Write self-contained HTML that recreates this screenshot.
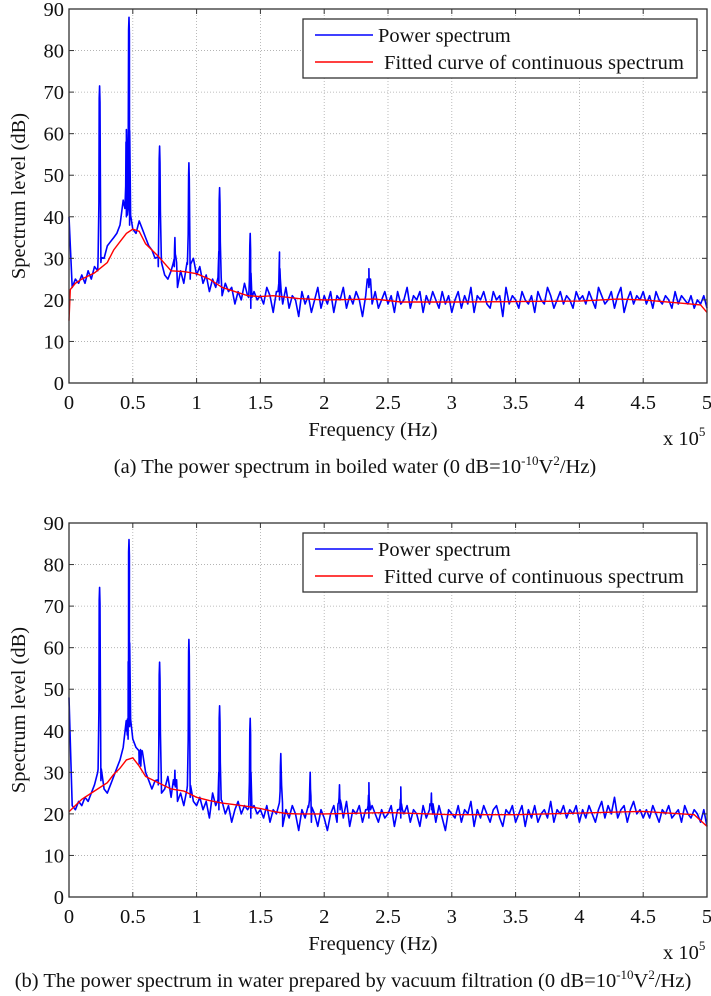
<!DOCTYPE html>
<html><head><meta charset="utf-8"><style>
html,body{margin:0;padding:0;background:#fff;}
svg, svg text{font-family:"Liberation Serif","Times New Roman",serif;}
svg{display:block;}
</style></head><body>
<svg id="fig" width="711" height="996" viewBox="0 0 711 996" xmlns="http://www.w3.org/2000/svg" font-family="Liberation Serif, serif"></svg>
<script>
const xTicks=[0,0.5,1,1.5,2,2.5,3,3.5,4,4.5,5];
const xTickLabels=["0","0.5","1","1.5","2","2.5","3","3.5","4","4.5","5"];
const yTicks=[0,10,20,30,40,50,60,70,80,90];
const baseStep=0.025;
const blueA=[40,23,25,24,26,24,27,25,28,27,29,30,33,34,35,36,38,44,40,38,37,
36,39,37,35,33,32,30,28,29,26,25,27,28,23,27,24,29,25,30,26,
28,24,26,22,25,23,24,21,24,22,23,19,22,20,24,21,18,22,20,21,
19,23,21,17,22,20,19,23,18,21,20,16,22,19,21,17,20,23,18,21,
19,22,17,21,20,23,18,21,19,22,20,16,21,23,19,22,18,20,22,19,
21,17,22,19,20,23,18,21,20,22,17,21,19,22,20,18,22,19,21,17,
20,22,18,21,19,23,17,21,20,22,19,18,22,20,21,16,23,19,21,20,
18,22,20,19,21,17,22,20,19,23,21,18,20,22,19,21,20,18,22,20,
21,19,22,20,18,23,21,19,20,22,18,21,23,17,20,22,19,21,20,22,
19,21,18,22,20,19,21,20,18,22,19,21,20,19,21,18,20,19,21,18];
const peakFreqA=[0.24,0.45,0.47,0.71,0.83,0.94,1.18,1.42,1.65,2.35];
const peakLevelA=[71.5,61,88,57,35,53,47,36,31.5,27.5];
const fitXA=[0,0.01,0.05,0.1,0.2,0.3,0.35,0.4,0.45,0.5,0.55,0.6,0.7,0.8,0.9,1.0,1.1,1.2,1.3,1.4,1.5,1.6,1.8,2.0,2.4,2.6,3.0,3.5,4.0,4.3,4.5,4.8,4.95,5.0];
const fitYA=[15,22.5,24,25,26.5,29,32,34,36,37,36.5,33.5,30.5,27,26.8,26.3,25,23,22,21,20.8,21,20.3,20,20.2,19.5,19.5,19.6,19.7,20.2,20,19.2,18.8,17];
const blueB=[48,22,21,23,22,24,23,25,27,30,28,26,25,27,29,31,33,36,40,41,38,
36,32,35,30,28,26,28,27,25,26,29,24,27,23,25,22,26,24,23,22,
24,21,23,19,25,22,21,23,20,22,18,21,23,20,22,21,19,22,20,21,
19,22,18,21,20,23,17,21,19,22,20,16,21,19,22,18,20,17,21,19,
16,20,22,18,21,19,23,17,21,20,22,18,21,19,22,20,18,21,19,20,
22,17,21,19,20,22,18,21,20,17,22,19,21,20,18,22,19,16,21,20,
19,22,18,21,20,23,17,21,19,22,20,18,21,22,19,17,21,20,22,18,
20,22,17,21,19,22,18,20,21,19,23,18,21,20,22,19,21,20,22,18,
21,19,22,20,18,21,23,19,22,20,24,19,21,22,18,21,23,20,21,19,
21,19,22,20,18,21,20,22,19,20,21,18,22,20,19,21,20,18,21,17];
const peakFreqB=[0.24,0.46,0.47,0.56,0.71,0.83,0.94,1.18,1.42,1.66,1.89,2.12,2.35,2.6,2.84];
const peakLevelB=[74.5,42,86,35.5,56.5,30.5,62,46,43,34.5,30,27,27.5,26.5,25];
const fitXB=[0,0.1,0.2,0.3,0.35,0.4,0.45,0.5,0.55,0.6,0.7,0.8,0.9,1.0,1.1,1.2,1.3,1.4,1.5,1.6,1.7,1.8,2.0,2.5,3.0,3.5,4.0,4.5,4.9,5.0];
const fitYB=[20.5,23.5,25.5,27.5,29.5,31,33,33.5,31.5,29,27.5,26,25.5,24,23.2,22.6,22.2,21.8,21.3,20.6,20.1,20,20,20.3,19.8,19.8,20.2,20.6,19.8,17];

const NS="http://www.w3.org/2000/svg";
const svg=document.getElementById('fig');
const FS=20.5;
const FF='Liberation Serif, serif';
function mk(tag,attrs,parent){const e=document.createElementNS(NS,tag);for(const k in attrs)e.setAttribute(k,attrs[k]);if(tag==='text')e.setAttribute('font-family',FF);(parent||svg).appendChild(e);return e;}

function drawChart(id,box,blue,pf,pl,fx,fy,caption){
  const g=mk('g',{});
  
  
  const X=v=>box.l+(v-0)/(5-0)*(box.r-box.l);
  const Y=v=>box.b-(v-0)/(90-0)*(box.b-box.t);
  xTicks.forEach((t,i)=>{
    if(i>0&&i<xTicks.length-1){const l=mk('line',{x1:X(t),x2:X(t),y1:box.t,y2:box.b,stroke:'#aaa','stroke-width':0.8,'stroke-dasharray':'1,2'},g);
    }
  });
  yTicks.forEach((t,i)=>{
    if(i>0&&i<yTicks.length-1){const l=mk('line',{x1:box.l,x2:box.r,y1:Y(t),y2:Y(t),stroke:'#aaa','stroke-width':0.8,'stroke-dasharray':'1,2'},g);
    }
  });
  const pts=blue.map((v,i)=>[i*baseStep,v]);
  const baseAt=f=>{const i=Math.min(blue.length-2,Math.floor(f/baseStep));const t=(f-i*baseStep)/baseStep;return blue[i]*(1-t)+blue[i+1]*t;};
  pf.forEach((f,i)=>{const b=baseAt(f);const h=pl[i];
    pts.push([f-0.012,b+2]);pts.push([f-0.006,b+(h-b)*0.35]);pts.push([f-0.003,h-3]);pts.push([f,h]);pts.push([f+0.003,h-4]);pts.push([f+0.006,b+(h-b)*0.45]);pts.push([f+0.013,b+2]);});
  pts.sort((a,b)=>a[0]-b[0]);
  const bp=mk('polyline',{points:pts.map(p=>X(p[0]).toFixed(1)+','+Y(p[1]).toFixed(1)).join(' '),fill:'none',stroke:'#0000ff','stroke-width':1.6,'stroke-linejoin':'round'},g);
  
  const rp=mk('polyline',{points:fx.map((x,i)=>X(x).toFixed(1)+','+Y(fy[i]).toFixed(1)).join(' '),fill:'none',stroke:'#ff0000','stroke-width':1.4},g);
  
  const ax=mk('rect',{x:box.l,y:box.t,width:box.r-box.l,height:box.b-box.t,fill:'none',stroke:'#333','stroke-width':1.3},g);
  
  xTicks.forEach((t,i)=>{
    mk('line',{x1:X(t),x2:X(t),y1:box.b,y2:box.b-5,stroke:'#333'},g);
    mk('line',{x1:X(t),x2:X(t),y1:box.t,y2:box.t+5,stroke:'#333'},g);
    const tx=mk('text',{x:X(t),y:box.b+26,'text-anchor':'middle','font-size':FS,fill:'#111'},g);
    tx.textContent=xTickLabels[i];
    
  });
  yTicks.forEach(t=>{
    mk('line',{x1:box.l,x2:box.l+5,y1:Y(t),y2:Y(t),stroke:'#333'},g);
    mk('line',{x1:box.r,x2:box.r-5,y1:Y(t),y2:Y(t),stroke:'#333'},g);
    const ty=mk('text',{x:box.l-5,y:Y(t)+7,'text-anchor':'end','font-size':FS,fill:'#111'},g);
    ty.textContent=String(t);
    
  });
  const yt=mk('text',{x:0,y:0,transform:`translate(25,${(box.t+box.b)/2}) rotate(-90)`,'text-anchor':'middle','font-size':FS,fill:'#111'},g);
  yt.textContent='Spectrum level (dB)';
  
  const xt=mk('text',{x:(box.l+box.r)/2-15,y:box.b+53,'text-anchor':'middle','font-size':FS,fill:'#111'},g);
  xt.textContent='Frequency (Hz)';
  
  const ex=mk('text',{x:box.r-44,y:box.b+62,'font-size':FS,fill:'#111'},g);
  ex.innerHTML='x 10<tspan dy="-9" font-size="13">5</tspan>';
  
  const cp=mk('text',{x:box.capX,y:box.b+90,'text-anchor':'middle','font-size':FS,fill:'#111'},g);
  cp.innerHTML=caption;
  
  const lg=mk('g',{},g);
  
  const ly=box.legT;
  mk('rect',{x:303,y:ly,width:394,height:59,fill:'#fff',stroke:'#333','stroke-width':1.3},lg);
  mk('line',{x1:315,x2:373,y1:ly+16,y2:ly+16,stroke:'#0000ff','stroke-width':1.4},lg);
  mk('line',{x1:315,x2:373,y1:ly+43,y2:ly+43,stroke:'#ff0000','stroke-width':1.4},lg);
  const l1=mk('text',{x:378,y:ly+23,'font-size':FS,fill:'#111'},lg);l1.textContent='Power spectrum';
  
  const l2=mk('text',{x:384,y:ly+50,'font-size':FS,fill:'#111',textLength:300},lg);l2.textContent='Fitted curve of continuous spectrum';
  
}
drawChart('a',{l:69,r:707,t:9,b:383,legT:19,capX:355},blueA,peakFreqA,peakLevelA,fitXA,fitYA,
 '(a) The power spectrum in boiled water (0 dB=10<tspan dy="-8" font-size="13">-10</tspan><tspan dy="8">V</tspan><tspan dy="-8" font-size="13">2</tspan><tspan dy="8">/Hz)</tspan>');
drawChart('b',{l:69,r:707,t:523,b:897,legT:533,capX:353},blueB,peakFreqB,peakLevelB,fitXB,fitYB,
 '(b) The power spectrum in water prepared by vacuum filtration (0 dB=10<tspan dy="-8" font-size="13">-10</tspan><tspan dy="8">V</tspan><tspan dy="-8" font-size="13">2</tspan><tspan dy="8">/Hz)</tspan>');
</script>
</body></html>
